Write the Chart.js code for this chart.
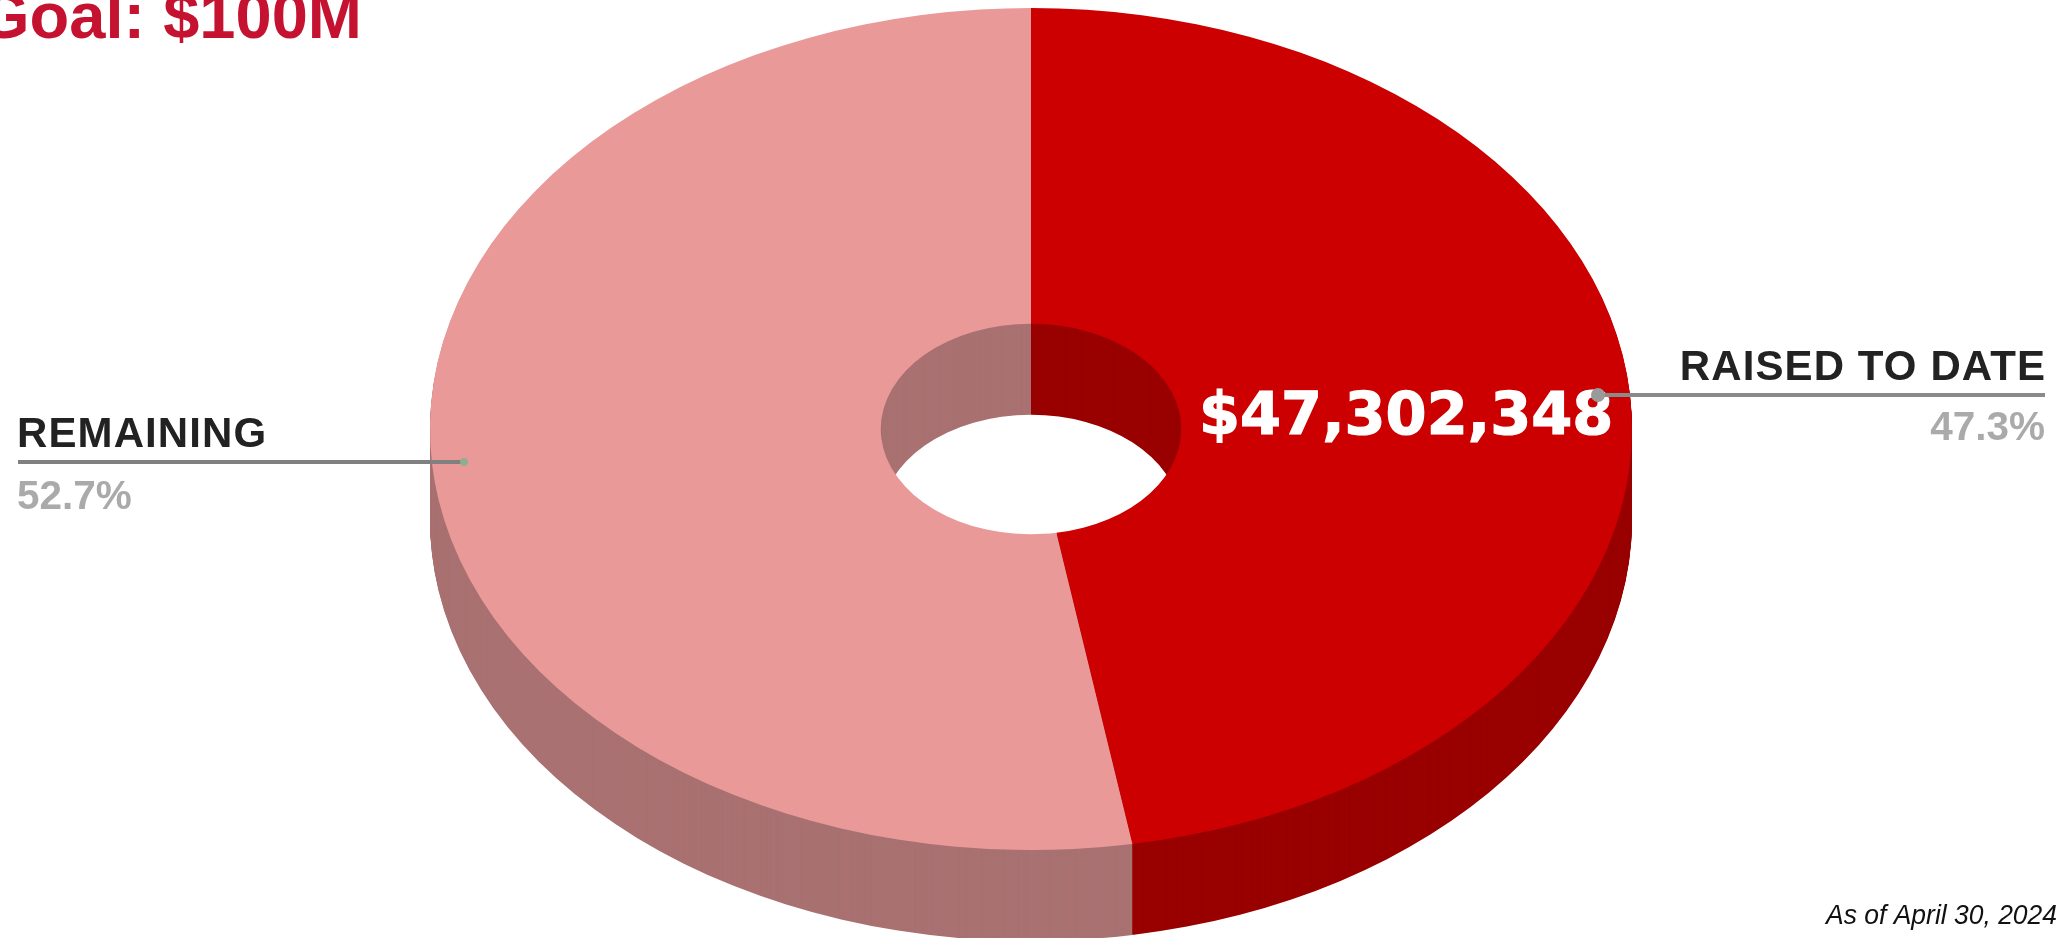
<!DOCTYPE html>
<html>
<head>
<meta charset="utf-8">
<title>Goal: $100M</title>
<script src="https://cdn.jsdelivr.net/npm/chart.js@4"></script>
<style>
    html, body { margin: 0; padding: 0; background: #fff; overflow: hidden; }
    canvas { display: block; }
</style>
</head>
<body>
<canvas id="goalChart" width="2062" height="938"></canvas>
<script>
const categories = ['RAISED TO DATE', 'REMAINING'];
const amounts = [47302348, 52697652];
const percentLabels = ['47.3%', '52.7%'];
const amountLabel = '$47,302,348';
const titleText = 'Goal: $100M';
const noteText = 'As of April 30, 2024';

const topColors = ['#cc0000', '#ea9999'];
const sideColors = ['#990000', '#a97171'];

// ellipse of the top face and height of the extruded side, in pixels
const tilt = { cx: 1031, cy: 429, rx: 601, ry: 421, depth: 91 };

// apply the squashed projection so the round doughnut becomes the tilted disc
function applyTilt(ctx, arc, shift) {
    const r = arc.outerRadius;
    ctx.translate(tilt.cx, tilt.cy + shift);
    ctx.scale(tilt.rx / r, tilt.ry / r);
    ctx.translate(-arc.x, -arc.y);
}

const tiltPlugin = {
    id: 'tilt',
    beforeDatasetDraw(chart, args) {
        const ctx = chart.ctx;
        const arcs = args.meta.data;
        // side wall: same arcs stacked from the bottom up in the dark colours
        for (let d = tilt.depth; d > 0; d--) {
            arcs.forEach((arc, i) => {
                const keep = arc.options;
                const dark = Object.create(keep);
                dark.backgroundColor = sideColors[i];
                arc.options = dark;
                ctx.save();
                applyTilt(ctx, arc, d);
                arc.draw(ctx);
                ctx.restore();
                arc.options = keep;
            });
        }
        ctx.save();
        applyTilt(ctx, arcs[0], 0);
    },
    afterDatasetDraw(chart) {
        chart.ctx.restore();
    }
};

function leader(ctx, x1, x2, y, color) {
    ctx.strokeStyle = color;
    ctx.lineWidth = 4;
    ctx.beginPath();
    ctx.moveTo(x1, y);
    ctx.lineTo(x2, y);
    ctx.stroke();
}

function dot(ctx, x, y, r, color) {
    ctx.fillStyle = color;
    ctx.beginPath();
    ctx.arc(x, y, r, 0, Math.PI * 2);
    ctx.fill();
}

const labelPlugin = {
    id: 'labels',
    afterDraw(chart) {
        const ctx = chart.ctx;
        ctx.save();
        ctx.textBaseline = 'alphabetic';

        ctx.textAlign = 'left';
        ctx.fillStyle = '#c41230';
        ctx.font = 'bold 65px "Liberation Sans"';
        ctx.fillText(titleText, -21, 38);

        // amount inside the raised slice, slightly heavier than plain bold
        ctx.fillStyle = '#ffffff';
        ctx.strokeStyle = '#ffffff';
        ctx.lineWidth = 1.2;
        ctx.font = 'bold 59px "DejaVu Sans"';
        ctx.fillText(amountLabel, 1199, 434);
        ctx.strokeText(amountLabel, 1199, 434);

        // raised label, right side
        leader(ctx, 1598, 2045, 395, '#8a8a8a');
        dot(ctx, 1598, 395, 7, '#9a9a9a');
        ctx.textAlign = 'right';
        ctx.fillStyle = '#222222';
        ctx.letterSpacing = '1.1px';
        ctx.font = 'bold 42px "Liberation Sans"';
        ctx.fillText(categories[0], 2046, 380);
        ctx.letterSpacing = '0px';
        ctx.fillStyle = '#aaaaaa';
        ctx.font = 'bold 40.5px "Liberation Sans"';
        ctx.fillText(percentLabels[0], 2045, 440);

        // remaining label, left side
        leader(ctx, 18, 465, 462, '#808080');
        dot(ctx, 464, 462, 4, '#8fae8f');
        ctx.textAlign = 'left';
        ctx.fillStyle = '#222222';
        ctx.letterSpacing = '1.1px';
        ctx.font = 'bold 42px "Liberation Sans"';
        ctx.fillText(categories[1], 17, 447);
        ctx.letterSpacing = '0px';
        ctx.fillStyle = '#aaaaaa';
        ctx.font = 'bold 40.5px "Liberation Sans"';
        ctx.fillText(percentLabels[1], 17, 509);

        // the note is set a little condensed
        ctx.translate(2057, 924);
        ctx.scale(0.945, 1);
        ctx.textAlign = 'right';
        ctx.fillStyle = '#111111';
        ctx.font = 'italic 28px "Liberation Sans"';
        ctx.fillText(noteText, 0, 0);
        ctx.restore();
    }
};

new Chart(document.getElementById('goalChart').getContext('2d'), {
    type: 'doughnut',
    data: {
        labels: categories,
        datasets: [{
            data: amounts,
            backgroundColor: topColors,
            borderWidth: 0,
            clip: false
        }]
    },
    plugins: [tiltPlugin, labelPlugin],
    options: {
        responsive: false,
        animation: false,
        cutout: '25%',
        events: [],
        layout: { padding: 0 },
        plugins: {
            legend: { display: false },
            tooltip: { enabled: false }
        }
    }
});
</script>
</body>
</html>
